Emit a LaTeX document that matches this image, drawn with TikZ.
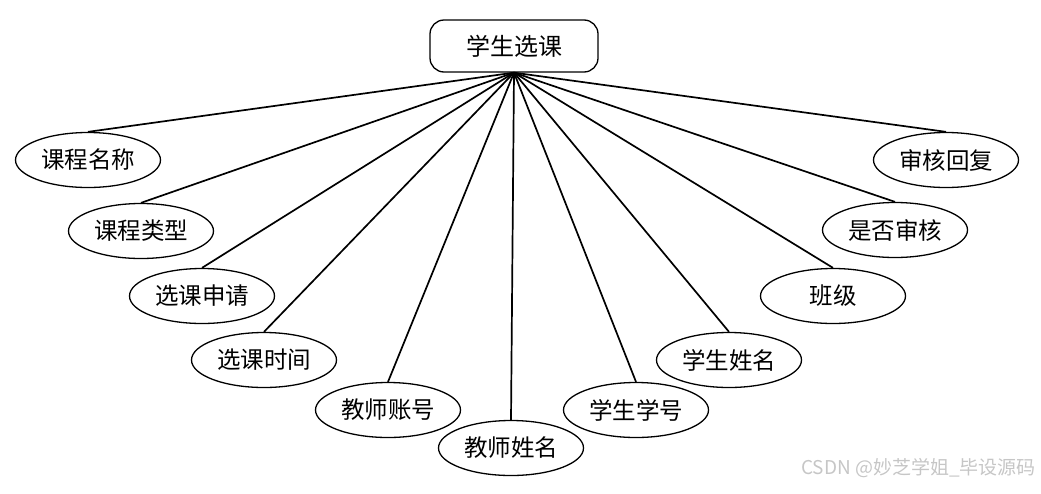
\documentclass[tikz,border=0pt]{standalone}
\usepackage{fontspec}
\setmainfont{Noto Sans CJK SC}
\newfontfamily\cjk{Noto Sans CJK SC}
\usetikzlibrary{shapes.geometric}

\begin{document}
\begin{tikzpicture}[
    x=1pt, y=1pt,
    entity/.style = {rectangle, draw, line width=1.3pt, rounded corners=14pt,
                     minimum width=168pt, minimum height=52pt, inner sep=0pt,
                     font=\cjk\fontsize{24}{28}\selectfont},
    attr/.style   = {ellipse, draw, line width=1.3pt, inner sep=0pt,
                     minimum width=145pt, minimum height=55pt,
                     font=\cjk\fontsize{23.5}{28}\selectfont},
    link/.style   = {line width=1.7pt}
]
\useasboundingbox (0,0) rectangle (1041,-493);

% =====================
% Entity
% =====================
\node[entity] (course) at (514,-46) {学生选课};

% =====================
% Attributes (left to right)
% =====================
\node[attr] (cname)  at (88,-160)  {课程名称};
\node[attr] (ctype)  at (141,-231) {课程类型};
\node[attr] (apply)  at (202,-296) {选课申请};
\node[attr] (atime)  at (264,-360) {选课时间};
\node[attr] (tacct)  at (388,-410) {教师账号};
\node[attr] (tname)  at (511,-448) {教师姓名};
\node[attr] (sno)    at (636,-410) {学生学号};
\node[attr] (sname)  at (729,-360) {学生姓名};
\node[attr] (class)  at (833,-296) {班级};
\node[attr] (review) at (895,-230) {是否审核};
\node[attr] (reply)  at (946,-160) {审核回复};

% =====================
% Connections
% =====================
\draw[link] (course.south) -- (cname.north);
\draw[link] (course.south) -- (ctype.north);
\draw[link] (course.south) -- (apply.north);
\draw[link] (course.south) -- (atime.north);
\draw[link] (course.south) -- (tacct.north);
\draw[link] (course.south) -- (tname.north);
\draw[link] (course.south) -- (sno.north);
\draw[link] (course.south) -- (sname.north);
\draw[link] (course.south) -- (class.north);
\draw[link] (course.south) -- (review.north);
\draw[link] (course.south) -- (reply.north);

% Watermark
\node[anchor=east, text=gray!45, font=\cjk\fontsize{19}{22}\selectfont, inner sep=0pt]
    (mark) at (1036,-468) {CSDN @妙芝学姐\_毕设源码};

\end{tikzpicture}
\end{document}
